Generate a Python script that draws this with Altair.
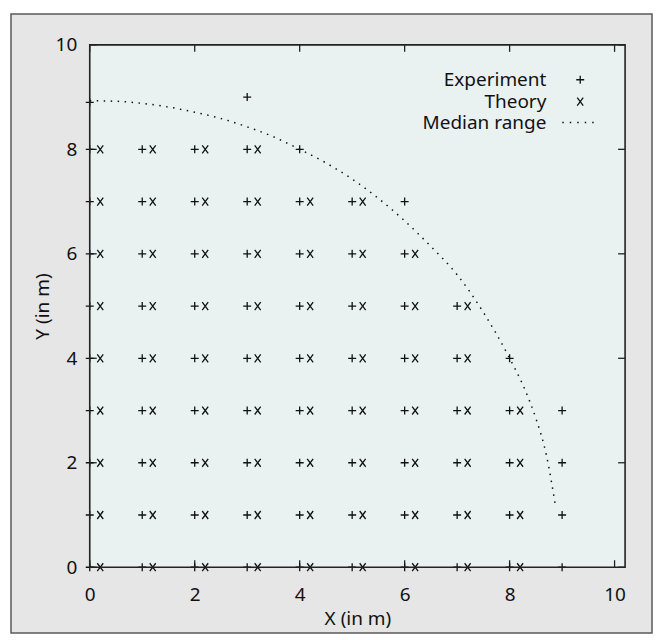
import altair as alt
import pandas as pd

# ---------------- data ----------------
# Experiment ("+") points, grouped by row (y value -> x values)
exp_row_y = [0, 1, 2, 3, 4, 5, 6, 7, 8, 8.9, 9]
exp_row_x = [
    [0, 1, 2, 3, 4, 5, 6, 7, 8, 9],
    [0, 1, 2, 3, 4, 5, 6, 7, 8, 9],
    [0, 1, 2, 3, 4, 5, 6, 7, 8, 9],
    [0, 1, 2, 3, 4, 5, 6, 7, 8, 9],
    [0, 1, 2, 3, 4, 5, 6, 7, 8],
    [0, 1, 2, 3, 4, 5, 6, 7],
    [0, 1, 2, 3, 4, 5, 6],
    [0, 1, 2, 3, 4, 5, 6],
    [0, 1, 2, 3, 4],
    [0],
    [3],
]

# Theory ("x") points, grouped by row
theo_row_y = [0, 1, 2, 3, 4, 5, 6, 7, 8]
theo_row_x = [
    [0.2, 1.2, 2.2, 3.2, 4.2, 5.2, 6.2, 7.2, 8.2],
    [0.2, 1.2, 2.2, 3.2, 4.2, 5.2, 6.2, 7.2, 8.2],
    [0.2, 1.2, 2.2, 3.2, 4.2, 5.2, 6.2, 7.2, 8.2],
    [0.2, 1.2, 2.2, 3.2, 4.2, 5.2, 6.2, 7.2, 8.2],
    [0.2, 1.2, 2.2, 3.2, 4.2, 5.2, 6.2, 7.2],
    [0.2, 1.2, 2.2, 3.2, 4.2, 5.2, 6.2, 7.2],
    [0.2, 1.2, 2.2, 3.2, 4.2, 5.2, 6.2],
    [0.2, 1.2, 2.2, 3.2, 4.2, 5.2],
    [0.2, 1.2, 2.2, 3.2],
]

# Median range curve (dotted)
median_x = [0, 0.5, 1, 1.5, 2, 2.5, 3, 3.5, 4, 4.5, 5, 5.5, 6, 6.5, 7,
            7.5, 8, 8.3, 8.5, 8.7, 8.87]
median_y = [8.93, 8.92, 8.88, 8.81, 8.71, 8.59, 8.43, 8.24, 8.0, 7.74, 7.43,
            7.06, 6.63, 6.14, 5.6, 4.88, 4.0, 3.38, 2.85, 2.15, 1.2]

tick_values = [0, 2, 4, 6, 8, 10]
legend_labels = ["Experiment", "Theory", "Median range"]

# ---------------- tables ----------------
exp_df = pd.DataFrame(
    [{"x": x, "y": y} for y, xs in zip(exp_row_y, exp_row_x) for x in xs]
)
theo_df = pd.DataFrame(
    [{"x": x, "y": y} for y, xs in zip(theo_row_y, theo_row_x) for x in xs]
)
med_df = pd.DataFrame({"x": median_x, "y": median_y, "i": list(range(len(median_x)))})
tick_df = pd.DataFrame({"v": tick_values})
one = pd.DataFrame({"a": [0]})

W, H = 537, 524
FONT = "Noto Sans"
INK = "#111111"
FS = 19

xscale = alt.Scale(domain=[0, 10.2], nice=False, zero=False)
yscale = alt.Scale(domain=[0, 10], nice=False, zero=False)
xaxis = alt.Axis(values=tick_values, ticks=False, domain=False, grid=False, zindex=2,
                 labelFontSize=FS, labelFont=FONT, labelColor=INK, labelPadding=18,
                 labelFlush=False, title="X (in m)", titleFont=FONT, titleFontSize=FS,
                 titleFontWeight="normal", titleColor=INK, titlePadding=5)
yaxis = alt.Axis(values=tick_values, ticks=False, domain=False, grid=False, zindex=2,
                 labelFontSize=FS, labelFont=FONT, labelColor=INK, labelPadding=13,
                 labelFlush=False, title="Y (in m)", titleFont=FONT, titleFontSize=FS,
                 titleFontWeight="normal", titleColor=INK, titlePadding=3)

PLUS = "M-1,0L1,0M0,-1L0,1"
CROSS = "M-0.75,-1L0.75,1M-0.75,1L0.75,-1"
SYM = 64

# outer grey panel
outer = alt.Chart(one).mark_rect(fill="#e6e6e6", stroke="#5a5a5a", strokeWidth=1.5).encode(
    x=alt.value(-79), x2=alt.value(564), y=alt.value(-31), y2=alt.value(590)
)
# plot area fill
plotbg = alt.Chart(one).mark_rect(fill="#e9f2f1").encode(
    x=alt.value(0), x2=alt.value(W), y=alt.value(0), y2=alt.value(H)
)
plotborder = alt.Chart(one).mark_rect(fill="#e9f2f1", fillOpacity=0, stroke="#222222",
                                      strokeWidth=1.6).encode(
    x=alt.value(0), x2=alt.value(W), y=alt.value(0), y2=alt.value(H)
)

TL = 7
tick_color = "#222222"
bottom_ticks = alt.Chart(tick_df).mark_rule(color=tick_color, strokeWidth=1.3).encode(
    x=alt.X("v:Q", scale=xscale, axis=xaxis), y=alt.value(H), y2=alt.value(H - TL))
top_ticks = alt.Chart(tick_df).mark_rule(color=tick_color, strokeWidth=1.3).encode(
    x=alt.X("v:Q", scale=xscale, axis=xaxis), y=alt.value(0), y2=alt.value(TL))
left_ticks = alt.Chart(tick_df).mark_rule(color=tick_color, strokeWidth=1.3).encode(
    y=alt.Y("v:Q", scale=yscale, axis=yaxis), x=alt.value(0), x2=alt.value(TL))
right_ticks = alt.Chart(tick_df).mark_rule(color=tick_color, strokeWidth=1.3).encode(
    y=alt.Y("v:Q", scale=yscale, axis=yaxis), x=alt.value(W), x2=alt.value(W - TL))

exp_pts = alt.Chart(exp_df).mark_point(shape=PLUS, size=SYM, filled=False, color=INK,
                                       strokeWidth=1.3, opacity=1).encode(
    x=alt.X("x:Q", scale=xscale, axis=xaxis), y=alt.Y("y:Q", scale=yscale, axis=yaxis))
theo_pts = alt.Chart(theo_df).mark_point(shape=CROSS, size=SYM, filled=False, color=INK,
                                         strokeWidth=1.3, opacity=1).encode(
    x=alt.X("x:Q", scale=xscale, axis=xaxis), y=alt.Y("y:Q", scale=yscale, axis=yaxis))
median = alt.Chart(med_df).mark_line(color=INK, strokeWidth=1.5, strokeDash=[1.5, 5.5],
                                     interpolate="monotone").encode(
    x=alt.X("x:Q", scale=xscale, axis=xaxis), y=alt.Y("y:Q", scale=yscale, axis=yaxis),
    order="i:Q")

# legend (inside plot, top right)
LX_TEXT, LX_SYM = 458, 492
LY = [35, 57, 78]
leg_texts = [
    alt.Chart(one).mark_text(text=t, align="right", baseline="middle", font=FONT,
                             fontSize=FS, color=INK).encode(
        x=alt.value(LX_TEXT), y=alt.value(yy))
    for t, yy in zip(legend_labels, LY)
]
leg_plus = alt.Chart(one).mark_point(shape=PLUS, size=SYM, filled=False, color=INK,
                                     strokeWidth=1.3, opacity=1).encode(
    x=alt.value(LX_SYM), y=alt.value(LY[0]))
leg_cross = alt.Chart(one).mark_point(shape=CROSS, size=SYM, filled=False, color=INK,
                                      strokeWidth=1.3, opacity=1).encode(
    x=alt.value(LX_SYM), y=alt.value(LY[1]))
leg_line = alt.Chart(one).mark_rule(color=INK, strokeWidth=1.5, strokeDash=[1.5, 6]).encode(
    x=alt.value(LX_SYM - 18), x2=alt.value(LX_SYM + 18), y=alt.value(LY[2]))

chart = alt.layer(
    outer, plotbg, bottom_ticks, top_ticks, left_ticks, right_ticks,
    median, exp_pts, theo_pts, plotborder,
    *leg_texts, leg_plus, leg_cross, leg_line,
).properties(
    width=W, height=H,
    padding={"left": 82, "top": 36, "right": 28, "bottom": 67},
    autosize=alt.AutoSizeParams(type="none"),
    background="white",
).configure_view(stroke=None)

chart.save("out.html", embed_options={"renderer": "svg", "actions": False})
